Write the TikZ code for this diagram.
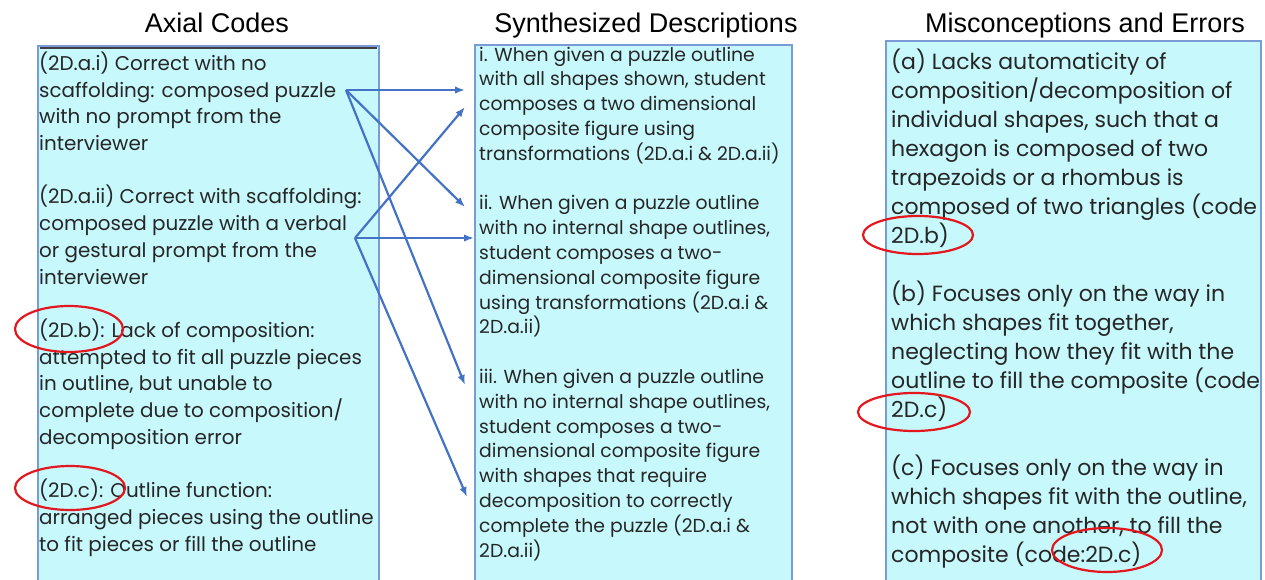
\documentclass[tikz,border=0pt]{standalone}
\usepackage{fontspec}
\usetikzlibrary{arrows.meta}
\newfontfamily\titlefont{Liberation Sans}
\newfontfamily\bodyfont{Poppins}
\definecolor{boxfill}{HTML}{C7F8FC}
\definecolor{boxline}{HTML}{7B9BD6}
\definecolor{arrowblue}{HTML}{4472C4}
\definecolor{ringred}{HTML}{E3171E}
\begin{document}
\begin{tikzpicture}[>={Latex[length=10pt,width=7.5pt]}, x=1pt, y=-1pt,
    box/.style={draw=boxline, fill=boxfill, line width=1.4pt},
    head/.style={font=\titlefont\fontsize{27}{30}\selectfont, anchor=base, inner sep=0},
    body/.style={align=left, anchor=base west, inner sep=0, text=black!85},
    link/.style={->, draw=arrowblue, line width=2.2pt},
    ring/.style={draw=ringred, line width=2.2pt}]
    \useasboundingbox (0,0) rectangle (1265,580);
    % the three columns
    \draw[box] (38,46) rectangle (379,600);
    \draw[line width=1.4pt, black!75] (40,48) -- (377,48);
    \draw[box] (475,45) rectangle (792,600);
    \draw[box] (886,41) rectangle (1261,600);
    \node[head] (hAxial) at (217,33) {Axial Codes};
    \node[head] (hSynth) at (646,33) {Synthesized Descriptions};
    \node[head] (hMiscon) at (1085,33) {Misconceptions and Errors};
    % column texts (placed by the baseline of their last line)
    \node[body, font=\bodyfont\fontsize{19.9}{26.7}\selectfont] (axial) at (39,551) {%
        (2D.a.i) Correct with no\\
        scaffolding: composed puzzle\\
        with no prompt from the\\
        interviewer\\[\baselineskip]
        (2D.a.ii) Correct with scaffolding:\\
        composed puzzle with a verbal\\
        or gestural prompt from the\\
        interviewer\\[\baselineskip]
        (2D.b): Lack of composition:\\
        attempted to fit all puzzle pieces\\
        in outline, but unable to\\
        complete due to composition/\\
        decomposition error\\[\baselineskip]
        (2D.c): Outline function:\\
        arranged pieces using the outline\\
        to fit pieces or fill the outline};
    \node[body, font=\bodyfont\fontsize{18.8}{24.8}\selectfont] (synth) at (479,557) {%
        i. When given a puzzle outline\\
        with all shapes shown, student\\
        composes a two dimensional\\
        composite figure using\\
        transformations (2D.a.i \& 2D.a.ii)\\[\baselineskip]
        ii. When given a puzzle outline\\
        with no internal shape outlines,\\
        student composes a two-\\
        dimensional composite figure\\
        using transformations (2D.a.i \&\\
        2D.a.ii)\\[\baselineskip]
        iii. When given a puzzle outline\\
        with no internal shape outlines,\\
        student composes a two-\\
        dimensional composite figure\\
        with shapes that require\\
        decomposition to correctly\\
        complete the puzzle (2D.a.i \&\\
        2D.a.ii)};
    \node[body, font=\bodyfont\fontsize{22}{29}\selectfont] (miscon) at (891,562) {%
        (a) Lacks automaticity of\\
        composition/decomposition of\\
        individual shapes, such that a\\
        hexagon is composed of two\\
        trapezoids or a rhombus is\\
        composed of two triangles (code\\
        2D.b)\\[\baselineskip]
        (b) Focuses only on the way in\\
        which shapes fit together,\\
        neglecting how they fit with the\\
        outline to fill the composite (code\\
        2D.c)\\[\baselineskip]
        (c) Focuses only on the way in\\
        which shapes fit with the outline,\\
        not with one another, to fill the\\
        composite (code:2D.c)};
    % links from the codes to the descriptions
    \coordinate (aI) at (346,90);
    \coordinate (aII) at (355,238);
    \coordinate (dIa) at (465,90);
    \coordinate (dIb) at (465,107);
    \coordinate (dIIa) at (465,207);
    \coordinate (dIIb) at (474,238);
    \coordinate (dIIIa) at (465,385);
    \coordinate (dIIIb) at (467,497);
    \draw[link] (aI) -- (dIa);
    \draw[link] (aI) -- (dIIa);
    \draw[link] (aI) -- (dIIIa);
    \draw[link] (aII) -- (dIb);
    \draw[link] (aII) -- (dIIb);
    \draw[link] (aII) -- (dIIIb);
    % red rings
    \draw[ring] (69,329) ellipse [x radius=54pt, y radius=23pt];
    \draw[ring] (70,488) ellipse [x radius=55pt, y radius=22pt];
    \draw[ring] (918,235) ellipse [x radius=55pt, y radius=19pt];
    \draw[ring] (914,412) ellipse [x radius=56pt, y radius=19pt];
    \draw[ring] (1107,550) ellipse [x radius=55pt, y radius=22pt];
\end{tikzpicture}
\end{document}
